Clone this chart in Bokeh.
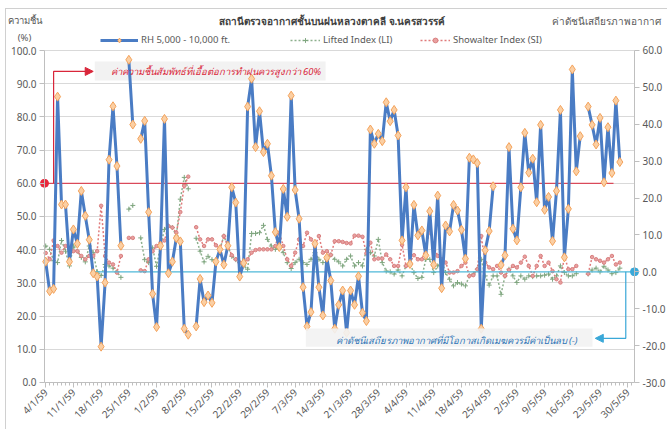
import math
from bokeh.plotting import figure
from bokeh.models import (Range1d, LinearAxis, FixedTicker, NumeralTickFormatter, Label,
                          Legend, LegendItem, Arrow, NormalHead, BoxAnnotation)
from bokeh.embed import file_html
from bokeh.resources import INLINE

NaN = float("nan")

TITLE = "สถานีตรวจอากาศชั้นบนฝนหลวงตาคลี  จ.นครสวรรค์"
LEFT_TITLE = ["ความชื้น", "(%)"]
RIGHT_TITLE = "ค่าดัชนีเสถียรภาพอากาศ"
RH_NOTE = "ค่าความชื้นสัมพัทธ์ที่เอื้อต่อการทำฝนควรสูงกว่า 60%"
IDX_NOTE = "ค่าดัชนีเสถียรภาพอากาศที่มีโอกาสเกิดเมฆควรมีค่าเป็นลบ (-)"
SERIES_NAMES = ["RH 5,000 - 10,000 ft.", "Lifted Index (LI)", "Showalter Index (SI)"]

# tick labels, one every 7 days starting 4/1/59
TICK_LABELS = ["4/1/59", "11/1/59", "18/1/59", "25/1/59", "1/2/59", "8/2/59", "15/2/59",
               "22/2/59", "29/2/59", "7/3/59", "14/3/59", "21/3/59", "28/3/59", "4/4/59",
               "11/4/59", "18/4/59", "25/4/59", "2/5/59", "9/5/59", "16/5/59", "23/5/59",
               "30/5/59"]

# daily relative humidity 5,000-10,000 ft (%) from 4/1/59
RH = [36.4, 27.5, 28.2, 86.1, 53.6, 53.6, 36.4, 46.1, 41.8, 57.7,
      50.2, 43.0, 32.9, 31.9, 10.8, 30.1, 67.1, 83.2, 65.2, 41.2,
      NaN, 97.2, 77.7, NaN, 73.4, 78.8, 51.3, 26.7, 16.7, 41.2,
      79.4, 32.9, 36.4, 43.5, 42.5, 16.2, 14.4, NaN, 16.9, 31.2,
      24.2, 26.2, 24.0, 36.4, 40.1, 35.5, 41.2, 58.8, 54.2, 31.9,
      36.0, 83.1, 91.5, 70.9, 81.7, 69.4, 71.9, 62.3, 45.3, 40.8,
      58.3, 49.9, 86.4, 58.0, 49.3, 28.7, 16.9, 21.2, 41.8, 28.7,
      20.2, 37.6, 30.7, 16.2, 23.4, 27.7, 15.0, 27.7, 23.4, 32.0,
      21.0, 18.5, 76.2, 71.9, 74.9, 72.7, 84.4, 78.7, 82.1, 74.4,
      42.8, 58.8, 35.7, 53.5, 44.3, 45.8, 38.3, 51.6, 35.5, 56.3,
      28.4, 47.3, 45.5, 53.5, 51.8, 46.0, 37.3, 67.7, 67.2, 66.1,
      16.2, 39.8, 45.6, 59.1, NaN, 35.4, 38.3, 70.9, 46.3, 42.8,
      58.8, 75.2, 63.2, 67.4, 54.3, 77.6, 52.0, 55.9, 42.6, 57.7,
      82.1, 37.7, 52.3, 94.3, 63.6, 74.2, NaN, 83.1, 77.6, 71.7,
      79.7, 60.3, 76.9, 63.1, 84.9, 66.4]

LI = [7.0, 6.1, 3.0, 2.5, 8.5, 5.6, 1.6, 7.0, 5.6, 3.9,
      2.7, 7.0, 5.2, 0.0, -1.0, 2.0, 1.6, 1.0, 0.0, -1.5,
      NaN, 17.0, 18.0, NaN, 9.2, 3.3, 2.5, 6.5, 1.5, 7.0,
      11.5, 12.4, 12.0, 9.7, 19.7, 25.6, 22.5, NaN, 9.1, 5.6,
      2.7, 4.2, 3.3, 2.5, 6.1, 9.7, 7.0, 4.2, 3.3, 2.5,
      1.6, 0.7, 10.4, 10.4, 10.6, 12.6, 8.8, 7.0, 6.1, 6.5,
      5.2, 2.5, 0.9, 2.5, 3.4, 2.5, 2.0, 3.4, 5.2, 3.4,
      2.5, 3.4, 4.6, 3.4, 2.7, 1.6, 3.4, 4.3, 1.6, 2.5,
      1.6, 6.1, 5.2, 4.3, 8.8, 2.5, 0.2, 0.0, -0.6, 0.5,
      -1.1, 1.6, 2.0, -0.2, -1.8, -1.5, 3.4, 3.4, -0.2, 1.6,
      2.9, -0.2, -2.0, -3.8, -2.9, -3.3, -3.8, -1.1, -0.6, 0.7,
      3.4, -1.1, -3.6, -1.1, -1.1, -6.1, -1.1, 0.7, -1.1, -2.9,
      -1.1, -2.0, -1.1, -1.3, -1.1, -1.1, -0.9, -0.6, -2.0, -1.1,
      1.6, -0.2, -1.1, -1.1, -0.5, NaN, NaN, -0.6, 0.5, 1.0,
      0.0, 1.5, 0.5, -0.5, -0.2, 1.0]

SI = [5.1, 3.4, 8.5, 7.0, 5.2, 7.0, 6.3, 5.6, 5.6, 4.3,
      3.4, 4.3, 4.3, 5.6, 17.9, 4.3, 2.5, 2.0, -0.2, 4.3,
      NaN, 9.2, 9.2, NaN, 0.4, 0.2, 3.4, 5.6, 7.0, 7.9,
      8.5, 12.4, 12.0, 10.6, 16.2, 23.3, 25.8, NaN, 12.1, 8.8,
      7.0, 8.8, 8.8, 7.2, 6.1, 9.7, 7.0, 4.5, 3.4, 2.5,
      2.5, 3.4, 5.2, 5.9, 6.1, 6.1, 6.1, 6.1, 7.0, 10.6,
      7.0, 3.4, 1.6, 5.2, 8.8, 7.0, 10.6, 8.8, 7.0, 9.7,
      5.2, 5.6, 4.6, 8.3, 8.3, 8.1, 7.8, 7.7, 9.8, 9.8,
      9.5, 5.0, 7.9, 3.4, 3.6, 3.6, 4.7, 3.4, 1.6, 1.6,
      7.3, 1.6, 2.5, 4.5, 3.4, 3.4, 6.6, 11.2, 7.0, 4.3,
      3.4, 2.5, -0.2, -0.2, 0.2, 1.6, 2.5, -1.1, -0.9, 0.7,
      9.7, 2.5, 1.2, 0.7, 1.6, -0.2, -1.1, 0.5, 1.6, 1.2,
      2.5, 4.1, 1.6, -1.1, 1.6, 4.3, 1.6, 2.5, 0.2, -2.0,
      -2.9, 4.3, 0.7, 0.7, 1.6, NaN, NaN, -0.5, 4.0, 3.4,
      3.0, 2.5, 3.4, 4.3, 2.0, 2.5]

RH_THRESHOLD = 60.0
IDX_THRESHOLD = 0.0

days = list(range(len(RH)))
FONT = "Noto Sans"
GREY = "#595959"
X0, X1 = -0.3, 148.7          # extent of the category axis

# the frame covers the whole chart; all three axes are pinned at fixed locations
p = figure(width=662, height=421, output_backend="svg", toolbar_location=None,
           x_range=Range1d(-9.897, 157.29), y_range=Range1d(-14.46, 112.35),
           min_border_left=0, min_border_right=0, min_border_top=0, min_border_bottom=0,
           styles={"margin-left": "5px", "margin-top": "8px",
                   "border-left": "1px solid #D0D0D0", "border-top": "1px solid #D0D0D0"})
p.outline_line_color = None
p.extra_y_ranges = {"idx": Range1d(-43.01, 71.11)}

# axes
p.xaxis.ticker = FixedTicker(ticks=[i * 7 for i in range(len(TICK_LABELS))],
                             minor_ticks=list(range(0, 149)))
p.xaxis.major_label_overrides = {i * 7: t for i, t in enumerate(TICK_LABELS)}
p.xaxis.major_label_orientation = math.pi / 4
p.xaxis.bounds = (X0, X1)
p.xaxis.fixed_location = 0
p.yaxis.ticker = FixedTicker(ticks=list(range(0, 101, 10)))
p.yaxis.formatter = NumeralTickFormatter(format="0.0")
p.yaxis.bounds = (0, 100)
p.yaxis.fixed_location = X0
ra = LinearAxis(y_range_name="idx", ticker=FixedTicker(ticks=list(range(-30, 61, 10))),
                formatter=NumeralTickFormatter(format="0.0"), bounds=(-30, 60), fixed_location=X1)
p.add_layout(ra, "right")
for ax in [p.xaxis[0], p.yaxis[0], ra]:
    ax.axis_line_color = "#BFBFBF"
    ax.major_tick_line_color = "#BFBFBF"
    ax.minor_tick_line_color = "#BFBFBF"
    ax.major_tick_in = 0
    ax.major_tick_out = 5
    ax.minor_tick_in = 0
    ax.minor_tick_out = 0
    ax.major_label_text_color = GREY
    ax.major_label_text_font = FONT
    ax.major_label_text_font_size = "10px"
    ax.major_label_standoff = 3
p.xaxis.minor_tick_out = 3
p.xgrid.grid_line_color = None
yg = p.ygrid[0]
yg.ticker = FixedTicker(ticks=list(range(10, 101, 10)))
if "cross_bounds" in yg.properties():
    yg.grid_line_color = "#D9D9D9"
    yg.cross_bounds = (X0, X1)
else:
    yg.grid_line_color = None
    gy = list(range(10, 101, 10))
    p.segment([X0] * len(gy), gy, [X1] * len(gy), gy, line_color="#D9D9D9", line_width=1)

# index series
li_line = p.line(days, LI, y_range_name="idx", line_color="#8DB08D", line_width=1.5, line_dash="2 2")
li_mk = p.scatter(days, LI, y_range_name="idx", marker="cross", size=5, line_color="#7FA67F", line_width=1)
si_line = p.line(days, SI, y_range_name="idx", line_color="#E07B7B", line_width=1.5, line_dash="2 2")
si_mk = p.scatter(days, SI, y_range_name="idx", marker="circle", size=3.5, fill_color="#E8A0A0", line_color="#D98080")

# threshold lines & callouts
p.line([X0, 143.4], [RH_THRESHOLD, RH_THRESHOLD], line_color="#D9263A", line_width=1)
p.scatter([X0], [RH_THRESHOLD], size=8, fill_color="#E8283C", line_color="#E8283C")
p.line([11.4, X1], [IDX_THRESHOLD, IDX_THRESHOLD], y_range_name="idx", line_color="#4FB8D8", line_width=1.2)
p.scatter([X1], [IDX_THRESHOLD], y_range_name="idx", size=8, fill_color="#3AA8D8", line_color="#3AA8D8")

# RH series on top
rh_line = p.line(days, RH, line_color="#4A7CC4", line_width=3)
rh_mk = p.scatter(days, RH, marker="diamond", size=9, fill_color="#FBCFA3", line_color="#F4A25A", line_width=1)

p.add_layout(BoxAnnotation(left=12.4, right=70.7, bottom=91.0, top=96.7, fill_color="#F2F2F2",
                           fill_alpha=1, line_color=None, level="underlay"))
p.add_layout(BoxAnnotation(left=65.7, right=138.1, bottom=10.8, top=16.3, fill_color="#F2F2F2",
                           fill_alpha=0.9, line_color=None))
p.line([2.0, 2.0, 11.0], [RH_THRESHOLD, 93.7, 93.7], line_color="#D9263A", line_width=1.2)
p.add_layout(Arrow(end=NormalHead(size=8, fill_color="#D9263A", line_color="#D9263A"),
                   x_start=10.0, y_start=93.7, x_end=12.0, y_end=93.7, line_color="#D9263A", line_width=1.2))
p.line([146.5, 146.5, 140.5], [33.33, 13.3, 13.3], line_color="#3AA8D8", line_width=1.2)
p.add_layout(Arrow(end=NormalHead(size=8, fill_color="#3AA8D8", line_color="#3AA8D8"),
                   x_start=140.5, y_start=13.3, x_end=138.8, y_end=13.3, line_color="#3AA8D8", line_width=1.2))

p.add_layout(Label(x=16.4, y=93.7, text=RH_NOTE, text_color="#D9263A", text_font=FONT,
                   text_font_size="9.5px", text_font_style="italic", text_baseline="middle"))
p.add_layout(Label(x=73.2, y=12.6, text=IDX_NOTE, text_color="#2E75B6", text_font=FONT,
                   text_font_size="9.5px", text_font_style="italic", text_baseline="middle"))

# header texts (screen px from the frame's bottom-left corner; frame bottom = canvas bottom)
TOP = 421
p.add_layout(Label(x=327, y=TOP - 11, x_units="screen", y_units="screen", text=TITLE, text_font=FONT,
                   text_font_size="10px", text_font_style="bold", text_color="#404040",
                   text_align="center", text_baseline="middle"))
p.add_layout(Label(x=654, y=TOP - 11, x_units="screen", y_units="screen", text=RIGHT_TITLE, text_font=FONT,
                   text_font_size="10px", text_color=GREY, text_align="right", text_baseline="middle"))
p.add_layout(Label(x=18, y=TOP - 11, x_units="screen", y_units="screen", text=LEFT_TITLE[0], text_font=FONT,
                   text_font_size="9.5px", text_color=GREY, text_align="center", text_baseline="middle"))
p.add_layout(Label(x=18, y=TOP - 28, x_units="screen", y_units="screen", text=LEFT_TITLE[1], text_font=FONT,
                   text_font_size="9.5px", text_color=GREY, text_align="center", text_baseline="middle"))

# legend: one entry per block, placed like the original
entries = [(SERIES_NAMES[0], [rh_line, rh_mk], 94, 38),
           (SERIES_NAMES[1], [li_line, li_mk], 284, 30),
           (SERIES_NAMES[2], [si_line, si_mk], 414, 30)]
for name, rends, lx, gw in entries:
    lg = Legend(items=[LegendItem(label=name, renderers=rends)], orientation="horizontal",
                location=(lx, TOP - 37), background_fill_alpha=0, border_line_color=None, padding=0,
                margin=0, glyph_width=gw, glyph_height=12, label_standoff=3, label_text_font=FONT,
                label_text_font_size="9.5px", label_text_color=GREY)
    p.add_layout(lg)

open("out.html", "w").write(file_html(p, INLINE))
